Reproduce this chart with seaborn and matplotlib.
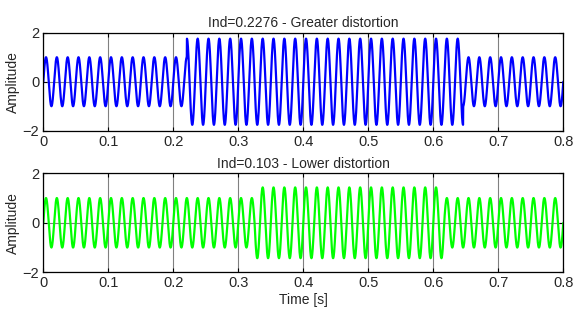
import numpy as np
import pandas as pd
import matplotlib
matplotlib.use("Agg")
import matplotlib.pyplot as plt
import seaborn as sns

# signal parameters
freq_hz = 60
fs = 4000
t_end = 0.8

# (start, end, amplitude) of each segment
top_segments = [(0.0, 0.2208, 1.0), (0.2208, 0.6458, 1.76), (0.6458, 0.8, 1.0)]
bottom_segments = [(0.0, 0.325, 1.0), (0.325, 0.617, 1.43), (0.617, 0.8, 1.0)]

titles = ["Ind=0.2276 - Greater distortion", "Ind=0.103 - Lower distortion"]
colors = ["#0000ff", "#00ff00"]
xticks = [0, 0.1, 0.2, 0.3, 0.4, 0.5, 0.6, 0.7, 0.8]
xtick_labels = ["0", "0.1", "0.2", "0.3", "0.4", "0.5", "0.6", "0.7", "0.8"]
yticks = [-2, 0, 2]


def build_signal(segments):
    t = np.arange(0, t_end + 1 / fs, 1 / fs)
    amp = np.ones_like(t)
    for start, end, a in segments:
        amp[(t >= start) & (t < end)] = a
    return pd.DataFrame({"time": t, "value": amp * np.sin(2 * np.pi * freq_hz * t)})


sns.set_style("white")
plt.rcParams['font.family'] = ['Liberation Sans', 'DejaVu Sans']

fig = plt.figure(figsize=(5.75, 3.09), dpi=100)
ax_top = fig.add_axes([0.0753, 0.577, 0.9044, 0.317])
ax_bot = fig.add_axes([0.0753, 0.1188, 0.9044, 0.3204])

for ax, segs, title, col in zip([ax_top, ax_bot], [top_segments, bottom_segments], titles, colors):
    df = build_signal(segs)
    sns.lineplot(data=df, x="time", y="value", ax=ax, color=col, linewidth=1.6)
    ax.set_xlim(0, 0.8)
    ax.set_ylim(-2, 2)
    ax.set_xticks(xticks)
    ax.set_xticklabels(xtick_labels)
    ax.set_yticks(yticks)
    ax.grid(True, color="#808080", linewidth=0.8)
    ax.set_axisbelow(True)
    ax.tick_params(direction="in", length=3, labelsize=10.5, top=True, right=True,
                   bottom=True, left=True, pad=3, color="black")
    for s in ax.spines.values():
        s.set_color("black")
        s.set_linewidth(0.9)
    ax.set_title(title, fontsize=10, pad=4)
    ax.set_ylabel("Amplitude", fontsize=10, labelpad=2)
    ax.set_xlabel("")

ax_bot.set_xlabel("Time [s]", fontsize=10, labelpad=2)

fig.savefig("out.png", dpi=100)
